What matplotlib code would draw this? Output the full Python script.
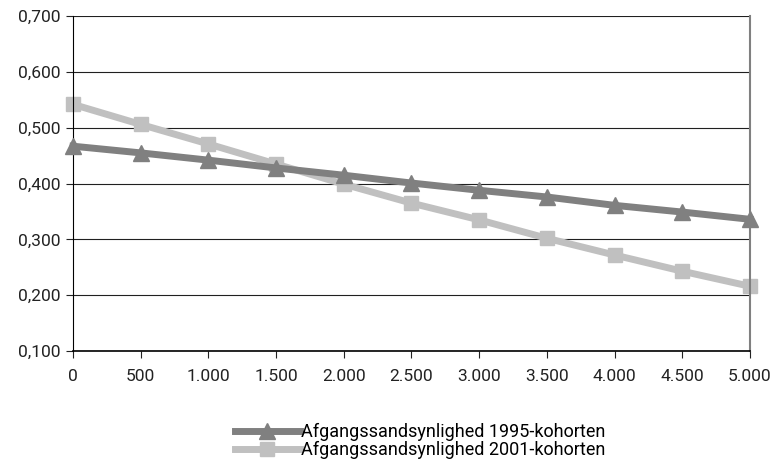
import matplotlib
matplotlib.use("Agg")
import matplotlib.pyplot as plt
from matplotlib.ticker import FuncFormatter

plt.rcParams['font.family'] = ['Roboto', 'DejaVu Sans']

x_vals = [0, 500, 1000, 1500, 2000, 2500, 3000, 3500, 4000, 4500, 5000]
cohort_1995 = [0.467, 0.455, 0.442, 0.428, 0.415, 0.401, 0.388, 0.376, 0.361, 0.349, 0.336]
cohort_2001 = [0.542, 0.506, 0.471, 0.435, 0.399, 0.365, 0.335, 0.302, 0.272, 0.243, 0.216]
labels = ["Afgangssandsynlighed 1995-kohorten", "Afgangssandsynlighed 2001-kohorten"]
y_ticks = [0.1, 0.2, 0.3, 0.4, 0.5, 0.6, 0.7]


def dk_thousands(v, pos):
    return f"{int(round(v)):,}".replace(",", ".")


def dk_decimal(v, pos):
    return f"{v:.3f}".replace(".", ",")


fig = plt.figure(figsize=(7.75, 4.75), dpi=100)
ax = fig.add_axes([0.0942, 0.261, 0.8735, 0.705])

ax.plot(x_vals, cohort_1995, color="#808080", lw=5, marker="^", ms=11,
        label=labels[0], zorder=3, clip_on=False)
ax.plot(x_vals, cohort_2001, color="#c0c0c0", lw=5, marker="s", ms=10,
        label=labels[1], zorder=2, clip_on=False)

ax.set_xlim(0, 5000)
ax.set_ylim(0.1, 0.7)
ax.set_xticks(x_vals)
ax.set_yticks(y_ticks)
ax.xaxis.set_major_formatter(FuncFormatter(dk_thousands))
ax.yaxis.set_major_formatter(FuncFormatter(dk_decimal))
ax.grid(axis="y", color="#202020", lw=0.8)
ax.set_axisbelow(True)

ax.spines["top"].set_visible(False)
ax.spines["right"].set_color("#808080")
ax.spines["right"].set_linewidth(1.5)
ax.spines["left"].set_color("black")
ax.spines["bottom"].set_color("black")
ax.spines["bottom"].set_linewidth(1.2)
ax.tick_params(axis="both", direction="out", length=5, labelsize=12.5,
               colors="#222222")
ax.tick_params(axis="x", pad=8)
ax.tick_params(axis="y", pad=4)

fig.legend(loc="center", bbox_to_anchor=(0.542, 0.071), frameon=False,
           fontsize=13, handlelength=3.6, handletextpad=0.05,
           labelspacing=0.0, borderpad=0)

fig.savefig("out.png", dpi=100)
